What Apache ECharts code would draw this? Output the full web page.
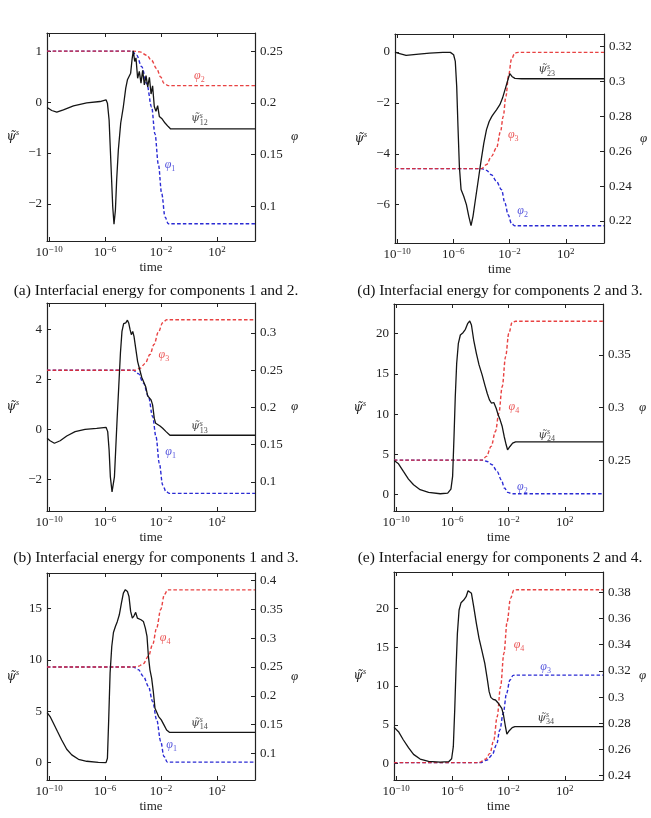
<!DOCTYPE html>
<html>
<head>
<meta charset="utf-8">
<script src="https://cdn.jsdelivr.net/npm/echarts@6/dist/echarts.min.js"></script>
<style>
  html, body { margin: 0; padding: 0; background: #fff; }
  #chart { width: 651px; height: 818px; }
</style>
</head>
<body>
<div id="chart"></div>
<script>
// x values are log10(time)
const xTickExps = [-10, -6, -2, 2];
const xMin = -10.15, xMax = 4.72;

// (a) components 1 and 2
const psi12LogT = [-10.14,-9.81,-9.45,-8.98,-8.26,-7.31,-6.36,-5.93,-5.83,-5.71,-5.57,-5.45,-5.36,-5.26,-5.17,-5.05,-4.88,-4.69,-4.52,-4.40,-4.29,-4.17,-4.07,-3.98,-3.88,-3.79,-3.67,-3.55,-3.43,-3.31,-3.19,-3.07,-2.95,-2.83,-2.71,-2.60,-2.48,-2.36,-2.24,-2.12,-1.95,-1.71,-1.48,-1.31,4.72];
const psi12 = [-0.105,-0.164,-0.197,-0.151,-0.072,-0.013,0.013,0.046,-0.02,-0.35,-1.27,-2.06,-2.40,-2.125,-1.53,-0.94,-0.41,-0.086,0.276,0.44,0.41,0.57,0.84,1.01,0.80,0.87,0.47,0.605,0.375,0.625,0.34,0.52,0.30,0.49,0.16,0.32,-0.086,-0.18,-0.07,-0.28,-0.32,-0.41,-0.48,-0.526,-0.526];
const phi2aLogT = [-10.15,-4.0,-3.5,-3.02,-2.67,-2.31,-2.02,-1.79,-1.48,4.72];
const phi2a = [0.25,0.25,0.2493,0.246,0.241,0.233,0.225,0.219,0.2167,0.2167];
const phi1aLogT = [-10.15,-4.1,-3.74,-3.38,-3.02,-2.67,-2.43,-2.19,-1.95,-1.71,-1.48,4.72];
const phi1a = [0.25,0.25,0.246,0.235,0.2187,0.196,0.170,0.141,0.1124,0.0899,0.0834,0.0834];
const leftTicksA = [-2, -1, 0, 1];
const rightTicksA = [0.1, 0.15, 0.2, 0.25];

// (d) components 2 and 3
const psi23LogT = [-10.15,-9.95,-9.36,-8.64,-7.69,-6.74,-6.21,-5.98,-5.86,-5.76,-5.67,-5.57,-5.45,-5.26,-5.07,-4.90,-4.74,-4.60,-4.43,-4.24,-4.05,-3.83,-3.64,-3.45,-3.26,-3.10,-2.93,-2.69,-2.50,-2.29,-2.10,-1.98,-1.83,-1.62,-1.14,4.72];
const psi23 = [0,-0.04,-0.13,-0.09,-0.04,-0.013,-0.013,-0.105,-0.37,-1.35,-2.92,-4.50,-5.41,-5.67,-6.00,-6.46,-6.83,-6.46,-5.81,-5.09,-4.36,-3.58,-3.05,-2.73,-2.53,-2.40,-2.27,-2.07,-1.81,-1.42,-1.06,-0.85,-0.96,-1.035,-1.05,-1.05];
const phi3dLogT = [-10.15,-4.0,-3.64,-3.29,-2.93,-2.64,-2.45,-2.26,-2.07,-1.86,-1.62,-1.38,4.72];
const phi3d = [0.25,0.25,0.2523,0.257,0.2618,0.2713,0.2799,0.2914,0.3032,0.3127,0.3162,0.3166,0.3166];
const phi2dLogT = [-10.15,-4.0,-3.64,-3.29,-2.93,-2.57,-2.33,-2.10,-1.86,-1.62,4.72];
const phi2d = [0.25,0.25,0.249,0.2465,0.2427,0.2379,0.2303,0.2236,0.2185,0.2173,0.2173];
const leftTicksD = [-6, -4, -2, 0];
const rightTicksD = [0.22, 0.24, 0.26, 0.28, 0.3, 0.32];

// (b) components 1 and 3
const psi13LogT = [-10.14,-9.93,-9.62,-9.21,-8.74,-8.14,-7.43,-6.6,-5.93,-5.81,-5.71,-5.62,-5.5,-5.43,-5.33,-5.24,-5.14,-5.02,-4.90,-4.79,-4.67,-4.52,-4.40,-4.31,-4.21,-4.12,-4.02,-3.93,-3.81,-3.67,-3.52,-3.38,-3.24,-3.10,-2.95,-2.83,-2.71,-2.6,-2.48,-2.38,-2.24,-2.07,-1.88,-1.64,-1.36,4.72];
const psi13 = [-0.36,-0.46,-0.56,-0.46,-0.27,-0.094,0,0.04,0.08,-0.094,-0.83,-1.91,-2.51,-2.55,-1.91,-0.83,0.38,1.72,3.06,3.93,4.24,4.27,4.38,4.27,4.0,3.80,3.93,3.73,3.26,2.72,2.39,2.09,2.01,1.72,1.34,1.42,1.18,0.98,0.44,0.24,0.21,0.13,0.04,-0.094,-0.24,-0.24];
const phi3bLogT = [-10.15,-3.86,-3.5,-3.14,-2.79,-2.5,-2.19,-1.88,-1.6,4.72];
const phi3b = [0.25,0.25,0.2527,0.259,0.2711,0.2846,0.3012,0.3138,0.3179,0.3179];
const phi1bLogT = [-10.15,-3.98,-3.62,-3.26,-2.90,-2.6,-2.36,-2.12,-1.88,-1.64,-1.4,4.72];
const phi1b = [0.25,0.25,0.2455,0.2329,0.215,0.188,0.161,0.125,0.0958,0.0869,0.0846,0.0846];
const leftTicksB = [-2, 0, 2, 4];
const rightTicksB = [0.1, 0.15, 0.2, 0.25, 0.3];

// (e) components 2 and 4
const psi24LogT = [-10.14,-9.83,-9.48,-9.12,-8.76,-8.29,-7.69,-6.86,-6.33,-6.10,-5.98,-5.88,-5.79,-5.69,-5.57,-5.43,-5.24,-5.07,-4.90,-4.76,-4.64,-4.48,-4.29,-4.10,-3.88,-3.69,-3.52,-3.36,-3.21,-3.05,-2.88,-2.74,-2.60,-2.45,-2.31,-2.17,-2.07,-1.90,-1.71,-1.50,4.72];
const psi24 = [4.26,3.84,2.89,1.94,1.24,0.62,0.29,0.12,0.21,0.70,2.27,7.23,12.19,16.32,18.80,19.83,20.12,20.54,21.28,21.57,21.07,19.21,17.56,16.12,14.88,13.64,12.60,11.78,11.36,11.45,10.74,9.92,9.30,8.47,7.23,6.20,5.58,5.99,6.40,6.57,6.57];
const phi4eLogT = [-10.15,-3.88,-3.57,-3.24,-2.93,-2.69,-2.45,-2.21,-1.98,-1.74,-1.5,4.72];
const phi4e = [0.25,0.25,0.2535,0.263,0.2772,0.2946,0.3199,0.3484,0.3706,0.381,0.382,0.382];
const phi2eLogT = [-10.15,-3.88,-3.52,-3.17,-2.81,-2.52,-2.29,-2.05,-1.74,4.72];
const phi2e = [0.25,0.25,0.2487,0.2456,0.2392,0.2313,0.2234,0.2193,0.218,0.218];
const leftTicksE = [0, 5, 10, 15, 20];
const rightTicksE = [0.25, 0.3, 0.35];

// (c) components 1 and 4
const psi14LogT = [-10.14,-9.93,-9.69,-9.40,-9.10,-8.74,-8.38,-7.90,-7.31,-6.48,-5.93,-5.83,-5.74,-5.64,-5.52,-5.40,-5.26,-5.12,-4.98,-4.83,-4.69,-4.55,-4.40,-4.29,-4.17,-4.05,-3.93,-3.81,-3.69,-3.55,-3.43,-3.26,-3.12,-3.0,-2.90,-2.79,-2.67,-2.55,-2.43,-2.29,-2.17,-1.98,-1.79,-1.60,-1.40,4.72];
const psi14 = [4.86,4.47,3.81,3.0,2.18,1.27,0.72,0.29,0.10,0,-0.03,0.39,4.14,8.71,11.31,12.68,13.27,13.76,14.41,15.55,16.53,16.86,16.69,16.20,14.74,14.09,14.31,14.64,14.09,14.25,13.92,13.76,13.11,12.29,10.34,9.03,8.22,6.91,5.28,5.18,4.47,4.14,3.65,3.16,2.93,2.93];
const phi4cLogT = [-10.15,-3.98,-3.62,-3.26,-2.90,-2.6,-2.31,-2.02,-1.76,-1.52,4.72];
const phi4c = [0.25,0.25,0.2512,0.2558,0.2685,0.2887,0.3176,0.3494,0.3754,0.3835,0.3835];
const phi1cLogT = [-10.15,-3.98,-3.62,-3.26,-2.90,-2.6,-2.31,-2.02,-1.79,-1.55,4.72];
const phi1c = [0.25,0.25,0.2454,0.2338,0.2165,0.1905,0.1587,0.1211,0.0951,0.0853,0.0853];
const leftTicksC = [0, 5, 10, 15];
const rightTicksC = [0.1, 0.15, 0.2, 0.25, 0.3, 0.35, 0.4];

// (f) components 3 and 4
const psi34LogT = [-10.14,-9.83,-9.48,-9.12,-8.76,-8.29,-7.69,-6.86,-6.26,-6.05,-5.93,-5.83,-5.74,-5.64,-5.52,-5.38,-5.19,-5.02,-4.88,-4.76,-4.64,-4.48,-4.29,-4.10,-3.88,-3.69,-3.52,-3.38,-3.26,-3.10,-2.93,-2.76,-2.62,-2.48,-2.36,-2.24,-2.12,-1.95,-1.74,-1.55,4.72];
const psi34 = [4.68,4.12,3.05,2.06,1.20,0.60,0.30,0.21,0.26,0.64,2.19,6.91,12.06,16.78,19.79,20.73,21.07,21.50,22.27,22.36,21.93,20.21,18.07,16.14,14.42,12.92,10.99,9.27,8.54,8.28,8.20,7.85,7.68,7.12,6.27,4.98,3.82,4.25,4.64,4.76,4.76];
const phi4fLogT = [-10.15,-4.12,-3.64,-3.33,-3.05,-2.81,-2.57,-2.33,-2.10,-1.86,-1.62,-1.38,4.72];
const phi4f = [0.25,0.25,0.2525,0.257,0.2672,0.285,0.3079,0.3334,0.3576,0.3754,0.3817,0.382,0.382];
const phi3fLogT = [-10.15,-4.0,-3.52,-3.17,-2.86,-2.62,-2.38,-2.14,-1.90,-1.67,-1.38,4.72];
const phi3f = [0.25,0.25,0.252,0.2558,0.2634,0.2749,0.2876,0.3029,0.313,0.3166,0.3168,0.3168];
const leftTicksF = [0, 5, 10, 15, 20];
const rightTicksF = [0.24, 0.26, 0.28, 0.3, 0.32, 0.34, 0.36, 0.38];

const captionTexts = [
  '(a) Interfacial energy for components 1 and 2.',
  '(d) Interfacial energy for components 2 and 3.',
  '(b) Interfacial energy for components 1 and 3.',
  '(e) Interfacial energy for components 2 and 4.'
];

const SERIF = '"Liberation Serif", "DejaVu Serif", serif';
const GREEK = '"DejaVu Serif", serif';
const RED = '#e62e2e', BLUE = '#2b2bd4', BLACK = '#151515', AXIS = '#222';

function zip(xs, ys) { return xs.map((x, i) => [x, ys[i]]); }

// box = [left, top, width, height], ranges [min, max]
const panels = [
  { box: [47, 33, 208, 208], psi: zip(psi12LogT, psi12), red: zip(phi2aLogT, phi2a), blue: zip(phi1aLogT, phi1a),
    left: [-2.73, 1.36, leftTicksA], right: [0.0667, 0.2675, rightTicksA],
    notes: [[0.74, 0.51, 'phi', '2', RED], [0.74, -0.32, 'psi', '12', BLACK], [-1.36, -1.24, 'phi', '1', BLUE]] },
  { box: [395, 34, 209, 209], psi: zip(psi23LogT, psi23), red: zip(phi3dLogT, phi3d), blue: zip(phi2dLogT, phi2d),
    left: [-7.51, 0.71, leftTicksD], right: [0.2074, 0.3271, rightTicksD],
    notes: [[0.64, -0.69, 'psi', '23', BLACK], [-1.74, -3.25, 'phi', '3', RED], [-1.07, -6.26, 'phi', '2', BLUE]] },
  { box: [47, 303, 208, 208], psi: zip(psi13LogT, psi13), red: zip(phi3bLogT, phi3b), blue: zip(phi1bLogT, phi1b),
    left: [-3.28, 5.07, leftTicksB], right: [0.0609, 0.3404, rightTicksB],
    notes: [[-1.79, 2.99, 'phi', '3', RED], [0.74, 0.11, 'psi', '13', BLACK], [-1.31, -0.9, 'phi', '1', BLUE]] },
  { box: [394, 304, 209, 207], psi: zip(psi24LogT, psi24), red: zip(phi4eLogT, phi4e), blue: zip(phi2eLogT, phi2e),
    left: [-2.02, 23.68, leftTicksE], right: [0.2016, 0.3984, rightTicksE],
    notes: [[-1.62, 10.87, 'phi', '4', RED], [0.71, 7.44, 'psi', '24', BLACK], [-1.02, 1.03, 'phi', '2', BLUE]] },
  { box: [47, 573, 208, 207], psi: zip(psi14LogT, psi14), red: zip(phi4cLogT, phi4c), blue: zip(phi1cLogT, phi1c),
    left: [-1.73, 18.49, leftTicksC], right: [0.0543, 0.4127, rightTicksC],
    notes: [[-1.71, 12.13, 'phi', '4', RED], [0.74, 3.81, 'psi', '14', BLACK], [-1.24, 1.70, 'phi', '1', BLUE]] },
  { box: [394, 572, 209, 208], psi: zip(psi34LogT, psi34), red: zip(phi4fLogT, phi4f), blue: zip(phi3fLogT, phi3f),
    left: [-2.1, 24.68, leftTicksF], right: [0.2367, 0.3955, rightTicksF],
    notes: [[-1.26, 15.28, 'phi', '4', RED], [0.64, 12.49, 'phi', '3', BLUE], [0.64, 5.84, 'psi', '34', BLACK]] }
];
const captionPos = [[156, 291], [500, 291], [156, 558], [500, 558]];

function richFor(color, size) {
  const s = size || 13;
  return {
    v: { fontFamily: SERIF, fontStyle: 'italic', fontSize: s, lineHeight: 16, color: color },
    w: { fontFamily: GREEK, fontStyle: 'italic', fontSize: s - 1, lineHeight: 16, color: color },
    sup: { fontFamily: SERIF, fontStyle: 'italic', fontSize: 8, lineHeight: 6, verticalAlign: 'top', color: color },
    sub: { fontFamily: SERIF, fontSize: 8, lineHeight: 6, verticalAlign: 'bottom', color: color },
    b: { fontFamily: SERIF, fontSize: 13, lineHeight: 16, color: color },
    e: { fontFamily: SERIF, fontSize: 9, lineHeight: 6, verticalAlign: 'top', color: color }
  };
}

// one scatter item per label; psi labels get a stacked superscript "s" as a second item
function noteItems(n) {
  const base = { value: [n[0], n[1]] };
  const rich = richFor(n[4], 12);
  if (n[2] === 'phi') {
    return [Object.assign({}, base, { label: { show: true, position: 'inside', formatter: '{v|φ}{sub|' + n[3] + '}', rich: rich } })];
  }
  return [
    Object.assign({}, base, { label: { show: true, position: 'inside', formatter: '{w|ψ̃}{sub|' + n[3] + '}', rich: rich } }),
    Object.assign({}, base, { label: { show: true, position: 'inside', offset: [2, -4], formatter: '{sup|s}', rich: rich } })
  ];
}

const grid = [], xAxis = [], yAxis = [], series = [];
panels.forEach((p, i) => {
  grid.push({ left: p.box[0], top: p.box[1], width: p.box[2], height: p.box[3], outerBoundsMode: 'none' });
  const tick = { inside: true, length: 4, lineStyle: { color: AXIS, width: 1 } };
  const line = { show: true, onZero: false, lineStyle: { color: AXIS, width: 1.2 } };
  const xBase = { type: 'value', gridIndex: i, min: xMin, max: xMax, axisLine: line, splitLine: { show: false } };
  xAxis.push(Object.assign({}, xBase, {
    position: 'bottom',
    axisTick: Object.assign({ customValues: xTickExps }, tick),
    axisLabel: {
      customValues: xTickExps, margin: 4, color: AXIS, rich: richFor(AXIS),
      formatter: v => '{b|10}{e|' + (v < 0 ? '−' : '') + Math.abs(v) + '}'
    },
    name: 'time', nameLocation: 'middle', nameGap: 20, nameMoveOverlap: false,
    nameTextStyle: { fontFamily: SERIF, fontSize: 13, color: AXIS }
  }));
  xAxis.push(Object.assign({}, xBase, {
    position: 'top',
    axisTick: Object.assign({ customValues: xTickExps }, tick),
    axisLabel: { show: false }
  }));
  yAxis.push({
    type: 'value', gridIndex: i, position: 'left', min: p.left[0], max: p.left[1],
    axisLine: line, splitLine: { show: false },
    axisTick: Object.assign({ customValues: p.left[2] }, tick),
    axisLabel: {
      customValues: p.left[2], margin: 5, color: AXIS, fontFamily: SERIF, fontSize: 13,
      formatter: v => (v < 0 ? '−' + Math.abs(v) : String(v))
    },
    name: '{w|ψ̃}{sup|s}', nameLocation: 'middle', nameRotate: 0, nameGap: 28, nameMoveOverlap: false,
    nameTextStyle: { rich: richFor(AXIS) }
  });
  yAxis.push({
    type: 'value', gridIndex: i, position: 'right', min: p.right[0], max: p.right[1],
    axisLine: line, splitLine: { show: false },
    axisTick: Object.assign({ customValues: p.right[2] }, tick),
    axisLabel: {
      customValues: p.right[2], margin: 5, color: AXIS, fontFamily: SERIF, fontSize: 13,
      formatter: v => String(v)
    },
    name: '{v|φ}', nameLocation: 'middle', nameRotate: 0, nameGap: 36, nameMoveOverlap: false,
    nameTextStyle: { rich: richFor(AXIS) }
  });
  const dashed = (data, color, opacity) => ({
    type: 'line', xAxisIndex: 2 * i, yAxisIndex: 2 * i + 1, data: data,
    showSymbol: false, symbol: 'none', smooth: 0.35, smoothMonotone: 'x',
    lineStyle: { color: color, width: 1.4, type: [3.5, 2.2], opacity: opacity }, z: 2
  });
  series.push(dashed(p.blue, BLUE, 1));
  series.push(dashed(p.red, RED, 0.9));
  series.push({
    type: 'line', xAxisIndex: 2 * i, yAxisIndex: 2 * i, data: p.psi,
    showSymbol: false, symbol: 'none',
    lineStyle: { color: BLACK, width: 1.3 }, z: 3
  });
  series.push({
    type: 'scatter', xAxisIndex: 2 * i, yAxisIndex: 2 * i, symbolSize: 2,
    itemStyle: { color: 'rgba(0,0,0,0)' }, z: 4, silent: true,
    data: p.notes.flatMap(noteItems)
  });
});

const graphic = captionTexts.map((t, i) => ({
  type: 'text', x: captionPos[i][0], y: captionPos[i][1],
  style: { text: t, fontFamily: SERIF, fontSize: 15.5, fill: '#111', align: 'center', verticalAlign: 'middle' }
}));

const chart = echarts.init(document.getElementById('chart'), null, { renderer: 'canvas' });
chart.setOption({
  animation: false,
  backgroundColor: '#fff',
  grid: grid,
  xAxis: xAxis,
  yAxis: yAxis,
  series: series,
  graphic: graphic
});
</script>
</body>
</html>
